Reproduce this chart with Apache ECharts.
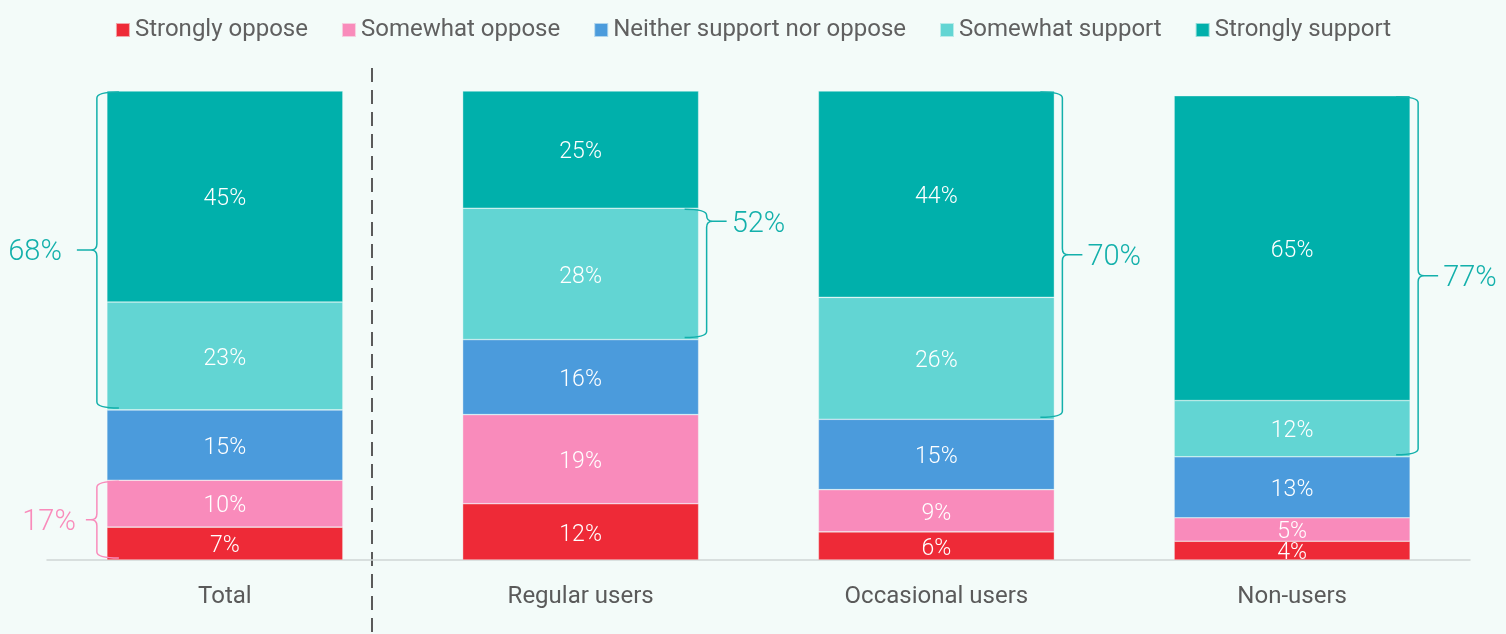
<!DOCTYPE html>
<html>
<head>
<meta charset="utf-8">
<title>Support by usage group</title>
<script src="https://cdn.jsdelivr.net/npm/echarts@6/dist/echarts.min.js"></script>
<style>
  html, body { margin: 0; padding: 0; background: #f3fbf9; }
  #chart { width: 1506px; height: 634px; }
</style>
</head>
<body>
<div id="chart"></div>
<script>
// Groups along the x axis
const categories = ['Total', 'Regular users', 'Occasional users', 'Non-users'];

// Share of respondents (%) per answer, one value per group
const stronglyOppose  = [7, 12, 6, 4];
const somewhatOppose  = [10, 19, 9, 5];
const neither         = [15, 16, 15, 13];
const somewhatSupport = [23, 28, 26, 12];
const stronglySupport = [45, 25, 44, 65];

const seriesNames = ['Strongly oppose', 'Somewhat oppose', 'Neither support nor oppose', 'Somewhat support', 'Strongly support'];
const seriesValues = [stronglyOppose, somewhatOppose, neither, somewhatSupport, stronglySupport];
const seriesColors = ['#ee2a37', '#f98bbb', '#4b9bdc', '#62d5d3', '#00b0ab'];

// Bracket annotations: group index, first and last stacked segment covered,
// side of the bar, and the net share printed beside it
const bracketGroups  = [0, 0, 1, 2, 3];
const bracketFromSeg = [3, 0, 3, 3, 3];
const bracketToSeg   = [4, 1, 3, 4, 4];
const bracketSide    = [-1, -1, 1, 1, 1];
const bracketLabels  = [68, 17, 52, 70, 77];

const FONT = 'Roboto, "DejaVu Sans", sans-serif';

// where along each bracket (0 = top, 1 = bottom) its point sits
const bracketPoint = [0.5, 0.5, 0.05, 0.5, 0.5];

// cumulative base of a segment within a group's stack
function stackBase(g, seg) {
  let s = 0;
  for (let i = 0; i < seg; i++) s += seriesValues[i][g];
  return s;
}

const bracketData = bracketGroups.map((g, i) => [
  g,
  stackBase(g, bracketFromSeg[i]),
  stackBase(g, bracketToSeg[i] + 1),
  bracketSide[i],
  bracketLabels[i],
  bracketFromSeg[i] === 0 ? 1 : 0,
  i
]);

const barSeries = seriesNames.map((name, i) => ({
  name: name,
  type: 'bar',
  stack: 'all',
  barWidth: 236,
  data: seriesValues[i],
  itemStyle: { color: seriesColors[i], borderColor: 'rgba(243,251,249,0.6)', borderWidth: 0.6 },
  label: {
    show: true,
    position: 'inside',
    offset: [0, 3],
    formatter: p => p.value + '%',
    color: '#ffffff',
    fontFamily: FONT,
    fontWeight: 300,
    fontSize: 23
  },
  emphasis: { disabled: true }
}));

const bracketSeries = {
  type: 'custom',
  name: 'brackets',
  silent: true,
  z: 5,
  encode: { x: 0, y: [1, 2] },
  data: bracketData,
  renderItem: function (params, api) {
    const g = api.value(0);
    const from = api.value(1);
    const to = api.value(2);
    const side = api.value(3);
    const total = api.value(4);
    const isOppose = api.value(5) === 1;
    const idx = api.value(6);
    const color = isOppose ? '#f98bbb' : '#13b0ab';
    const half = 236 / 2;
    const center = api.coord([g, 0])[0];
    const yTop = api.coord([g, to])[1] + 1;
    const yBot = api.coord([g, from])[1] - 2;
    const r = 6;
    const yMid = Math.max(yTop + 2 * r, yTop + (yBot - yTop) * bracketPoint[idx]);
    const edge = center + side * half;
    const x = edge + side * (side < 0 ? 10 : 8);
    const hook = x - side * 22;
    const tick = isOppose ? 11 : 20;
    const d = side;
    const path =
      'M' + hook + ',' + yTop +
      ' Q' + x + ',' + yTop + ' ' + x + ',' + (yTop + r) +
      ' L' + x + ',' + (yMid - r) +
      ' Q' + x + ',' + yMid + ' ' + (x + d * r) + ',' + yMid +
      ' L' + (x + d * tick) + ',' + yMid +
      ' M' + (x + d * r) + ',' + yMid +
      ' Q' + x + ',' + yMid + ' ' + x + ',' + (yMid + r) +
      ' L' + x + ',' + (yBot - r) +
      ' Q' + x + ',' + yBot + ' ' + hook + ',' + yBot;
    const labelX = x + d * (tick + (side < 0 ? (isOppose ? 10 : 15) : 5));
    return {
      type: 'group',
      children: [
        {
          type: 'path',
          shape: { pathData: path },
          style: { stroke: color, fill: null, lineWidth: 1.5 }
        },
        {
          type: 'text',
          x: labelX,
          y: yMid + 3,
          style: {
            text: total + '%',
            fill: color,
            fontFamily: FONT,
            fontWeight: 300,
            fontSize: 29,
            align: side < 0 ? 'right' : 'left',
            verticalAlign: 'middle'
          }
        }
      ]
    };
  }
};

const chart = echarts.init(document.getElementById('chart'));
chart.setOption({
  backgroundColor: '#f3fbf9',
  animation: false,
  legend: {
    data: seriesNames,
    top: 13,
    left: 'center',
    icon: 'rect',
    itemWidth: 14,
    itemHeight: 14,
    itemGap: 33,
    textStyle: { color: '#606060', fontFamily: FONT, fontSize: 24 }
  },
  grid: { left: 47, right: 36, top: 91, bottom: 74 },
  xAxis: {
    type: 'category',
    data: categories,
    axisLine: { lineStyle: { color: '#cfd6d5', width: 1.5 } },
    axisTick: { show: false },
    axisLabel: { color: '#5a5a5a', fontFamily: FONT, fontSize: 24, margin: 25 }
  },
  yAxis: {
    type: 'value',
    min: 0,
    max: 100,
    show: false
  },
  series: barSeries.concat([bracketSeries]),
  graphic: [{
    type: 'line',
    shape: { x1: 372, y1: 68, x2: 372, y2: 634 },
    style: { stroke: '#5a5a5a', lineWidth: 2, lineDash: [14, 8] },
    silent: true
  }]
});
</script>
</body>
</html>
